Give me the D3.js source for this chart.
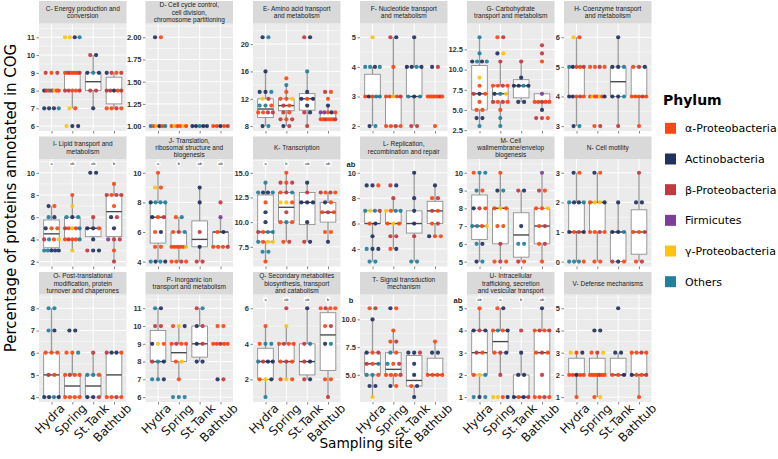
<!DOCTYPE html>
<html><head><meta charset="utf-8">
<script src="https://cdn.jsdelivr.net/npm/d3@7"></script>
<style>body{margin:0;background:#fff}svg{display:block}</style>
</head><body><svg id="chart" width="778" height="459"></svg>
<script>
// ---------- categories ----------
const sites = ["Hydra", "Spring", "St.Tank", "Bathtub"];
const phyla = ["α-Proteobacteria", "Actinobacteria", "β-Proteobacteria", "Firmicutes", "γ-Proteobacteria", "Others"];
const phylumCodes = ["O", "N", "R", "P", "Y", "T"];
const phylumColors = ["#FF4713", "#22325F", "#C23A40", "#7D3E99", "#FDC30F", "#23809A"];

// ---------- facet titles ----------
const titles = [
  "C- Energy production and\nconversion",
  "D- Cell cycle control,\ncell division,\nchromosome partitioning",
  "E- Amino acid transport\nand metabolism",
  "F- Nucleotide transport\nand metabolism",
  "G- Carbohydrate\ntransport and metabolism",
  "H- Coenzyme transport\nand metabolism",
  "I- Lipid transport and\nmetabolism",
  "J- Translation,\nribosomal structure and\nbiogenesis",
  "K- Transcription",
  "L- Replication,\nrecombination and repair",
  "M- Cell\nwallmembrane/envelop\nbiogenesis",
  "N- Cell motility",
  "O- Post-translational\nmodification, protein\nturnover and chaperones",
  "P- Inorganic ion\ntransport and metabolism",
  "Q- Secondary metabolites\nbiosynthesis, transport\nand catabolism",
  "T- Signal transduction\nmechanism",
  "U- Intracellular\ntrafficking, secretion\nand vesicular transport",
  "V- Defense mechanisms"
];

// ---------- y tick labels per facet ----------
const ticksC = ["6","7","8","9","10","11"];
const ticksD = ["1.00","1.25","1.50","1.75","2.00"];
const ticksE = ["8","12","16","20"];
const ticksF = ["2","3","4","5"];
const ticksG = ["2.5","5.0","7.5","10.0","12.5"];
const ticksH = ["3","4","5","6"];
const ticksI = ["2","4","6","8","10"];
const ticksJ = ["4","6","8","10"];
const ticksK = ["7.5","10.0","12.5","15.0"];
const ticksL = ["4","6","8","10"];
const ticksM = ["5","6","7","8","9","10"];
const ticksN = ["0","1","2","3"];
const ticksO = ["4","5","6","7","8"];
const ticksP = ["6","7","8","9","10","11"];
const ticksQ = ["2","4","6"];
const ticksT = ["5.0","7.5","10.0"];
const ticksU = ["1","2","3","4","5"];
const ticksV = ["1","2","3","4","5"];

// ---------- box statistics [lower whisker, Q1, median, Q3, upper whisker] per site ----------
const boxC = [[8,8,8,8,8],[7,8,9,9,9],[7,8,8.5,9,10],[7,7.25,8,8.75,9]];
const boxD = [[1,1,1,1,1],[1,1,1,1,1],[1,1,1,1,1],[1,1,1,1,1]];
const boxE = [[8,9.25,10.5,12,16],[8,10.25,11,12,14],[8,10.33,12,12.75,16],[9,9,9,10,11]];
const boxF = [[2,3,3,3.75,4],[2,2,3,3,5],[2,3,3,4,5],[3,3,3,3,3]];
const boxG = [[3,5,7,10.5,14],[3,6,7,8,11],[6,6.5,8,8.75,11],[5,6,6,7,7]];
const boxH = [[3,4,5,5,6],[4,4,4,4,4],[3,4,4.5,5,6],[3,4,4,5,5]];
const boxI = [[3,3.25,4.5,5.75,7],[3,4,5,6,8],[4,4.25,5,5,6],[2,4.25,6.5,8,9]];
const boxJ = [[4,5.25,7,8,10],[4,5,5,6,7],[4,5,5.5,6.75,9],[5,5,6,6,7]];
const boxK = [[6,8,9,12.75,14],[8,10,11.5,13,15],[8,9.75,12,13,14],[8,10,11,12,13]];
const boxL = [[3,6,6,7,7],[4,6,6,7,8],[3,5.25,6,7,10],[5,6,7,7.75,9]];
const boxM = [[5,6.25,7,8.75,10],[5,6,8,8,10],[5,5.25,6.5,7.75,9],[5,6,7,8,10]];
const boxN = [[0,1,1,2,3],[0,1,2,2,3],[0,0,1,1,2],[0,0.25,1,1.75,3]];
const boxO = [[4,4,5,6,8],[4,4,4.5,5,6],[4,4,4.5,5,6],[4,4,5,6,6]];
const boxP = [[7,8,8,9.75,11],[7,8,8.5,9,10],[8,8.25,9,10,11],[9,9,9,9,9]];
const boxQ = [[1,2,3,3.75,5],[2,3,3,4,5],[2,2.25,3,4,6],[1,2.5,4.5,5.75,6]];
const boxT = [[3,5,6,7,10],[4,5,5.5,7,9],[3,4,4.5,6.75,7],[5,5,5,6.5,8]];
const boxU = [[1,2,3,4,5],[2,3,3.5,4,5],[1,1,1,2,3],[1,1,3,4,5]];
const boxV = [[1,2,2,2.75,3],[1,2,2,2.75,3],[2,2,2,2.75,3],[1,2,2,3,3]];

// ---------- points: "value:phylum codes" per site (O α, N Actino, R β, P Firm, Y γ, T Others) ----------
const ptsC = ["9:ROR 8:NROTRYOO 7:NNNT", "11:YYNT 9:OOROOOOR 8:RROOR 7:YO 6:YNN", "10:RN 9:NTN 8:RR 7:N", "9:NROR 8:RRNOR 7:OORO"];
const ptsD = ["2:NO 1:TOYNOT", "1:OYOOYO", "1:NNTNN", "1:OONOR"];
const ptsE = ["21:NT 16:N 13:NNT 12:YR 11:TTO 10:OORR 8:NT", "15:O 14:T 13:O 12:OOY 11:RO 10:RO 9:ROR 8:NR", "21:RN 16:T 13:N 12:NON 11:N 10:RN 8:R", "13:RO 12:O 11:N 10:PPONO 9:OOROOOR"];
const ptsF = ["5:Y 4:TTNT 3:ONOTT 2:NT", "5:RN 4:O 3:OOYOR 2:OORO", "5:N 4:NNTN 3:TNT 2:RR", "4:NR 3:OOOOOORO 2:O"];
const ptsG = ["14:T 12:T 11:NTNT 9:Y 8:O 7:RNO 6:O 5:OO 4:NN 3:T", "14:OR 12:NY 11:R 8:OORO 7:NTY 6:RORO 5:O 4:T 3:T", "11:R 9:N 8:NNTN 6:NN", "13:R 12:R 11:O 7:P 6:OOROO 5:N 4:RRO"];
const ptsH = ["6:YO 5:TNOOR 4:NNORO 3:NT", "5:OORO 4:OYOOYON 3:OR", "6:N 5:NNT 4:NNT 3:R", "5:ORN 4:OOORO 3:O"];
const ptsI = ["7:NO 6:TN 5:NOO 4:RTOY 3:TTNNN", "8:O 7:Y 6:TNT 5:ROYOT 4:OROOT 3:Y", "10:NN 6:R 5:NNO 4:N 3:RNN", "9:O 8:RORR 7:O 6:NR 5:N 4:PRR 3:O 2:R"];
const ptsJ = ["10:O 9:YO 8:NTTT 7:NOR 6:ON 5:OO 4:TNTN", "7:OT 6:ORT 5:OOOOOY 4:OORO", "9:N 8:N 6:R 5:N 4:RR", "8:R 7:P 6:ON 5:OOOR"];
const ptsK = ["14:T 13:TNNT 12:O 11:N 10:N 9:ROTT 8:TOYY 7:TT 6:O", "15:O 14:ROR 13:ORT 12:YYO 11:R 10:OTO 8:OR", "14:N 13:R 12:NNN 10:N 8:RN", "13:RORO 12:NO 11:ORO 9:OO 8:N"];
const ptsL = ["9:NNO 7:TYTR 6:ON 5:N 4:TNN 3:TT", "9:RN 8:R 7:YOTT 6:OYO 5:RR 4:ON", "10:N 8:N 7:N 6:N 5:R 3:TT", "9:N 8:OR 7:RO 6:OR 5:NOO"];
const ptsM = ["10:OTT 9:TO 8:NRO 7:TTOY 6:TN 5:NT", "10:O 9:NT 8:OYO 7:OO 6:R 5:ORO", "9:RN 7:N 6:TT 5:RO", "10:P 9:RO 8:OOY 7:OR 6:OR 5:O"];
const ptsN = ["3:NO 2:TNNT 1:NORN 0:TTTO", "3:NO 2:OYYN 1:OORO 0:OO", "2:N 1:NNT 0:RNO", "3:R 2:NN 1:OOR 0:OR"];
const ptsO = ["8:TT 7:TN 6:OOO 5:RO 4:NNTN", "7:NN 6:OOT 5:OROO 4:OOOO", "6:R 5:TTO 4:NNR", "6:RNNO 4:OORO"];
const ptsP = ["11:TN 10:RR 9:NYO 8:RTN 7:TTN", "10:OYN 9:OROO 8:OY 7:O 6:TTT", "11:RT 10:NR 9:NR 8:NN", "10:OO 9:OOROO 7:NR"];
const ptsQ = ["5:O 4:OTT 3:TRNN 2:OYN 1:T", "6:R 5:Y 4:OROO 3:ORO 2:OYO", "6:N 4:RT 3:RN 2:RN", "6:OROO 5:OR 4:NT 2:OO 1:R"];
const ptsT = ["11:OR 10:N 7:NOR 6:ROT 5:TTO 4:NN 3:Y", "11:NO 9:O 8:OR 7:TO 6:TOR 5:OOOR 4:NO", "7:NNR 6:N 5:N 4:ON 3:N", "8:O 7:NN 5:OOOO"];
const ptsU = ["5:O 4:NRN 3:RO 2:OYT 1:TNT", "5:ON 4:OTON 3:ORN 2:R 1:YYON", "4:R 3:N 2:NN 1:NONR", "5:N 4:OROR 3:ORO 2:R 1:OORO"];
const ptsV = ["3:YON 2:OONOO 1:O", "4:NN 3:ORY 2:OOOOROO 1:OY", "5:N 3:NN 2:OON", "3:OORO 2:NOOR 1:O"];

// ---------- significance letters ----------
const lettersI = ["a", "ab", "ab", "b"];
const lettersJ = ["a", "b", "ab", "ab"];
const lettersK = ["a", "b", "ab", "ab"];
const lettersQ = ["a", "ab", "ab", "b"];
const lettersU = ["ab", "a", "b", "ab"];
const sideLetters = {9: "ab", 15: "b", 16: "ab"};

const tickSets = [ticksC,ticksD,ticksE,ticksF,ticksG,ticksH,ticksI,ticksJ,ticksK,ticksL,ticksM,ticksN,ticksO,ticksP,ticksQ,ticksT,ticksU,ticksV];
const boxSets = [boxC,boxD,boxE,boxF,boxG,boxH,boxI,boxJ,boxK,boxL,boxM,boxN,boxO,boxP,boxQ,boxT,boxU,boxV];
const ptSets = [ptsC,ptsD,ptsE,ptsF,ptsG,ptsH,ptsI,ptsJ,ptsK,ptsL,ptsM,ptsN,ptsO,ptsP,ptsQ,ptsT,ptsU,ptsV];
const letterSets = {6: lettersI, 7: lettersJ, 8: lettersK, 14: lettersQ, 16: lettersU};

// ---------- layout ----------
const colX = [39, 145.5, 253, 360, 467, 564];
const rowY = [23.5, 159, 294.5];
const panelW = 87.5, panelH = 107.5, stripH = 22.5;
const colorOf = d3.scaleOrdinal().domain(phylumCodes).range(phylumColors);

const svg = d3.select("#chart");
svg.append("rect").attr("width", 778).attr("height", 459).attr("fill", "#fff");

titles.forEach((title, fi) => {
  const col = fi % 6, row = Math.floor(fi / 6);
  const x0 = colX[col], y0 = rowY[row];
  const g = svg.append("g");
  const pts = [];
  ptSets[fi].forEach((str, si) => {
    str.split(" ").forEach(tok => {
      const [v, codes] = tok.split(":");
      const k = codes.length;
      codes.split("").forEach((c, i) => pts.push({site: sites[si], v: +v, c, i, k}));
    });
  });
  const vmin = d3.min(pts, d => d.v), vmax = d3.max(pts, d => d.v);
  const r = (vmax - vmin) || 1;
  const y = d3.scaleLinear().domain([vmin - 0.055 * r, vmax + 0.155 * r]).range([y0 + panelH, y0]);
  const x = d3.scalePoint().domain(sites).range([x0, x0 + panelW]).padding(0.6);
  const step = x.step();

  g.append("rect").attr("x", x0).attr("y", y0).attr("width", panelW).attr("height", panelH).attr("fill", "#EBEBEB");
  const tickVals = tickSets[fi].map(Number);
  const ts = tickVals[1] - tickVals[0];
  const [dlo, dhi] = y.domain();
  const minors = [];
  for (let v = tickVals[0] - ts / 2 - 10 * ts; v <= dhi; v += ts) if (v >= dlo) minors.push(v);
  g.selectAll(null).data(minors).enter().append("line")
    .attr("x1", x0).attr("x2", x0 + panelW).attr("y1", d => y(d)).attr("y2", d => y(d))
    .attr("stroke", "#fff").attr("stroke-width", 0.5);
  g.selectAll(null).data(tickVals).enter().append("line")
    .attr("x1", x0).attr("x2", x0 + panelW).attr("y1", d => y(d)).attr("y2", d => y(d))
    .attr("stroke", "#fff").attr("stroke-width", 1);
  g.selectAll(null).data(sites).enter().append("line")
    .attr("x1", d => x(d)).attr("x2", d => x(d)).attr("y1", y0).attr("y2", y0 + panelH)
    .attr("stroke", "#fff").attr("stroke-width", 1);

  const bw = step * 0.75;
  boxSets[fi].forEach((b, si) => {
    const cx = x(sites[si]);
    const [lo, q1, med, q3, hi] = b;
    if (hi > q3) g.append("line").attr("x1", cx).attr("x2", cx).attr("y1", y(q3)).attr("y2", y(hi)).attr("stroke", "#9a9a9a").attr("stroke-width", 1.3);
    if (lo < q1) g.append("line").attr("x1", cx).attr("x2", cx).attr("y1", y(q1)).attr("y2", y(lo)).attr("stroke", "#9a9a9a").attr("stroke-width", 1.3);
    g.append("rect").attr("x", cx - bw / 2).attr("y", y(q3)).attr("width", bw).attr("height", Math.max(0, y(q1) - y(q3)))
      .attr("fill", "#fff").attr("stroke", "#8f8f8f").attr("stroke-width", 0.9);
    g.append("line").attr("x1", cx - bw / 2).attr("x2", cx + bw / 2).attr("y1", y(med)).attr("y2", y(med))
      .attr("stroke", "#4a4a4a").attr("stroke-width", 1.4);
  });

  g.selectAll(null).data(pts).enter().append("circle")
    .attr("cx", d => {
      const sp = d.k > 1 ? Math.min(0.7 * step / (d.k - 1), 0.28 * step) : 0;
      return x(d.site) + (d.i - (d.k - 1) / 2) * sp;
    })
    .attr("cy", d => y(d.v)).attr("r", 2.1)
    .attr("fill", d => colorOf(d.c)).attr("fill-opacity", 0.92);

  if (letterSets[fi]) {
    letterSets[fi].forEach((L, si) => {
      const cx = x(sites[si]), cy = y(vmax + 0.1 * r);
      const w = 2.6 + 2.2 * L.length;
      g.append("rect").attr("x", cx - w / 2).attr("y", cy - 2.4).attr("width", w).attr("height", 4.8).attr("rx", 0.8)
        .attr("fill", "#fff");
      g.append("text").attr("x", cx).attr("y", cy + 1.4).attr("text-anchor", "middle")
        .attr("font-family", "Liberation Sans, Arial, sans-serif").attr("font-size", 4).attr("fill", "#222").text(L);
    });
  }
  if (sideLetters[fi]) {
    g.append("text").attr("x", x0 - 9).attr("y", y0 + 8).attr("text-anchor", "middle")
      .attr("font-family", "Liberation Sans, Arial, sans-serif").attr("font-weight", "bold").attr("font-size", 7.5)
      .attr("fill", "#222").text(sideLetters[fi]);
  }

  const ya = g.append("g").attr("transform", `translate(${x0},0)`)
    .call(d3.axisLeft(y).tickValues(tickVals).tickFormat((d, i) => tickSets[fi][i]).tickSize(2.5).tickPadding(1.5));
  ya.select(".domain").remove();
  ya.selectAll("line").attr("stroke", "#333").attr("stroke-width", 0.6);
  ya.selectAll("text").attr("font-family", "Liberation Sans, Arial, sans-serif").attr("font-weight", "bold")
    .attr("font-size", 7.5).attr("fill", "#333");

  const xa = g.append("g").attr("transform", `translate(0,${y0 + panelH})`)
    .call(d3.axisBottom(x).tickSize(2.5).tickFormat(row === 2 ? (d => d) : () => ""));
  xa.select(".domain").remove();
  xa.selectAll("line").attr("stroke", "#333").attr("stroke-width", 0.6);
  if (row === 2) {
    const fs = 12;
    xa.selectAll("text")
      .attr("font-family", "DejaVu Sans, sans-serif").attr("font-size", fs).attr("fill", "#111")
      .attr("text-anchor", "middle").attr("x", 0).attr("y", 0).attr("dy", "0.32em")
      .each(function () {
        const L = this.getComputedTextLength();
        const H = (L + 0.9 * fs) * Math.SQRT1_2;
        d3.select(this).attr("transform", `translate(-2,${0.5 + H / 2}) rotate(-45)`);
      });
  }

  g.append("rect").attr("x", x0).attr("y", y0 - stripH).attr("width", panelW).attr("height", stripH).attr("fill", "#D9D9D9");
  const lines = title.split("\n");
  const lh = 7.4;
  lines.forEach((ln, li) => {
    g.append("text").attr("x", x0 + panelW / 2)
      .attr("y", y0 - stripH / 2 + (li - (lines.length - 1) / 2) * lh + 2.3)
      .attr("text-anchor", "middle").attr("font-family", "Liberation Sans, Arial, sans-serif")
      .attr("font-size", 6.5).attr("fill", "#1A1A1A").text(ln);
  });
});

svg.append("text").attr("x", 366).attr("y", 448).attr("text-anchor", "middle")
  .attr("font-family", "DejaVu Sans, sans-serif").attr("font-size", 13.7).attr("fill", "#000").text("Sampling site");
svg.append("text").attr("transform", "translate(16,198) rotate(-90)").attr("text-anchor", "middle")
  .attr("font-family", "DejaVu Sans, sans-serif").attr("font-size", 15).attr("fill", "#000")
  .text("Percentage of proteins annotated in COG");

const lg = svg.append("g");
lg.append("text").attr("x", 663).attr("y", 105).attr("font-family", "DejaVu Sans, sans-serif")
  .attr("font-weight", "bold").attr("font-size", 14).attr("fill", "#000").text("Phylum");
const ly = d3.scalePoint().domain(phyla).range([128.3, 281.7]);
lg.selectAll(null).data(phyla).enter().append("rect")
  .attr("x", 665).attr("y", d => ly(d) - 5.5).attr("width", 11).attr("height", 11)
  .attr("fill", (d, i) => phylumColors[i]);
lg.selectAll(null).data(phyla).enter().append("text")
  .attr("x", 685).attr("y", d => ly(d) + 4).attr("font-family", "DejaVu Sans, sans-serif")
  .attr("font-size", 11).attr("fill", "#000").text(d => d);
</script>
</body></html>
